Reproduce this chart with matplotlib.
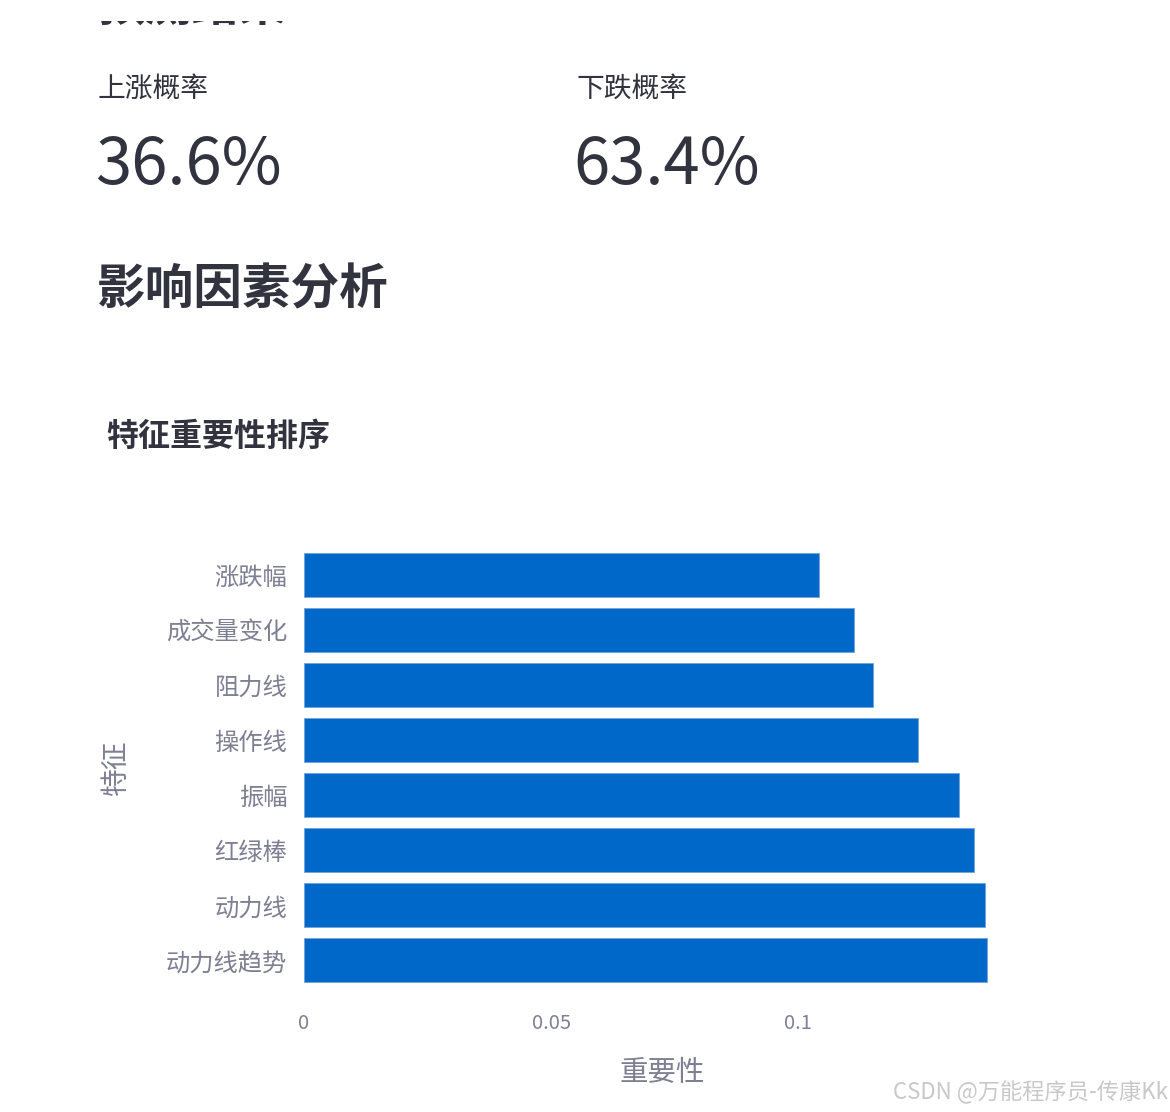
import matplotlib
matplotlib.use("Agg")
import matplotlib.pyplot as plt
from matplotlib.patches import Rectangle

plt.rcParams['font.family'] = ['Noto Sans CJK SC', 'DejaVu Sans']

features = ["涨跌幅", "成交量变化", "阻力线", "操作线", "振幅", "红绿棒", "动力线", "动力线趋势"]
importance = [0.1041, 0.1113, 0.1151, 0.1243, 0.1326, 0.1356, 0.1378, 0.1381]
xticks = [0, 0.05, 0.1]
xtick_labels = ["0", "0.05", "0.1"]
up_label, up_value = "上涨概率", "36.6%"
down_label, down_value = "下跌概率", "63.4%"

W, H = 1170, 1112
fig = plt.figure(figsize=(W / 100, H / 100), dpi=100)
fig.patch.set_facecolor("white")

dark = "#31333F"
gray = "#7d8093"

def fx(px):
    return px / W

def fy(py):
    return 1 - py / H

# heading cut off at the very top (only its lowest strokes show)
fig.text(fx(98), fy(31), "预测结果", fontsize=34, fontweight="bold", color=dark, va="bottom", ha="left", zorder=3)
fig.add_artist(Rectangle((0, fy(21)), 1, 1 - fy(21), transform=fig.transFigure,
                         facecolor="white", edgecolor="none", zorder=10))

fig.text(fx(98), fy(89), up_label, fontsize=20, color=dark, va="center", ha="left")
fig.text(fx(576), fy(89), down_label, fontsize=20, color=dark, va="center", ha="left")
fig.text(fx(95), fy(184), up_value, fontsize=47, color=dark, va="baseline", ha="left")
fig.text(fx(573), fy(184), down_value, fontsize=47, color=dark, va="baseline", ha="left")

fig.text(fx(97), fy(290), "影响因素分析", fontsize=35, fontweight="bold", color=dark, va="center", ha="left")
fig.text(fx(106), fy(437), "特征重要性排序", fontsize=23, fontweight="bold", color=dark, va="center", ha="left")

ax = fig.add_axes([fx(304), fy(988), fx(996) - fx(304), fy(547) - fy(988)])
ypos = list(range(len(features)))
ax.barh(ypos, importance, height=0.8, color="#0068C9", edgecolor="#6fa3dc", linewidth=0.6)
ax.set_ylim(len(features) - 0.5, -0.5)
ax.set_xlim(0, 0.14)
ax.set_yticks(ypos)
ax.set_yticklabels(features, fontsize=17.5, color=gray)
ax.set_xticks(xticks)
ax.set_xticklabels(xtick_labels, fontsize=14.5, color=gray)
ax.tick_params(axis="y", length=0, pad=12)
ax.tick_params(axis="x", length=0, pad=18)
for s in ax.spines.values():
    s.set_visible(False)
ax.set_xlabel("重要性", fontsize=20.5, color=gray)
ax.set_ylabel("特征", fontsize=20, color=gray)
aw = W * (fx(996) - fx(304))
ah = H * (fy(547) - fy(988))
ax.yaxis.set_label_coords((131 - 304) / aw, 0.5)
ax.xaxis.set_label_coords((662 - 304) / aw, (988 - 1058) / ah)

fig.text(fx(1168), fy(1092), "CSDN @万能程序员-传康Kk", fontsize=16, color="#c8c8c8", va="center", ha="right")

fig.savefig("out.png", dpi=100, facecolor="white")
